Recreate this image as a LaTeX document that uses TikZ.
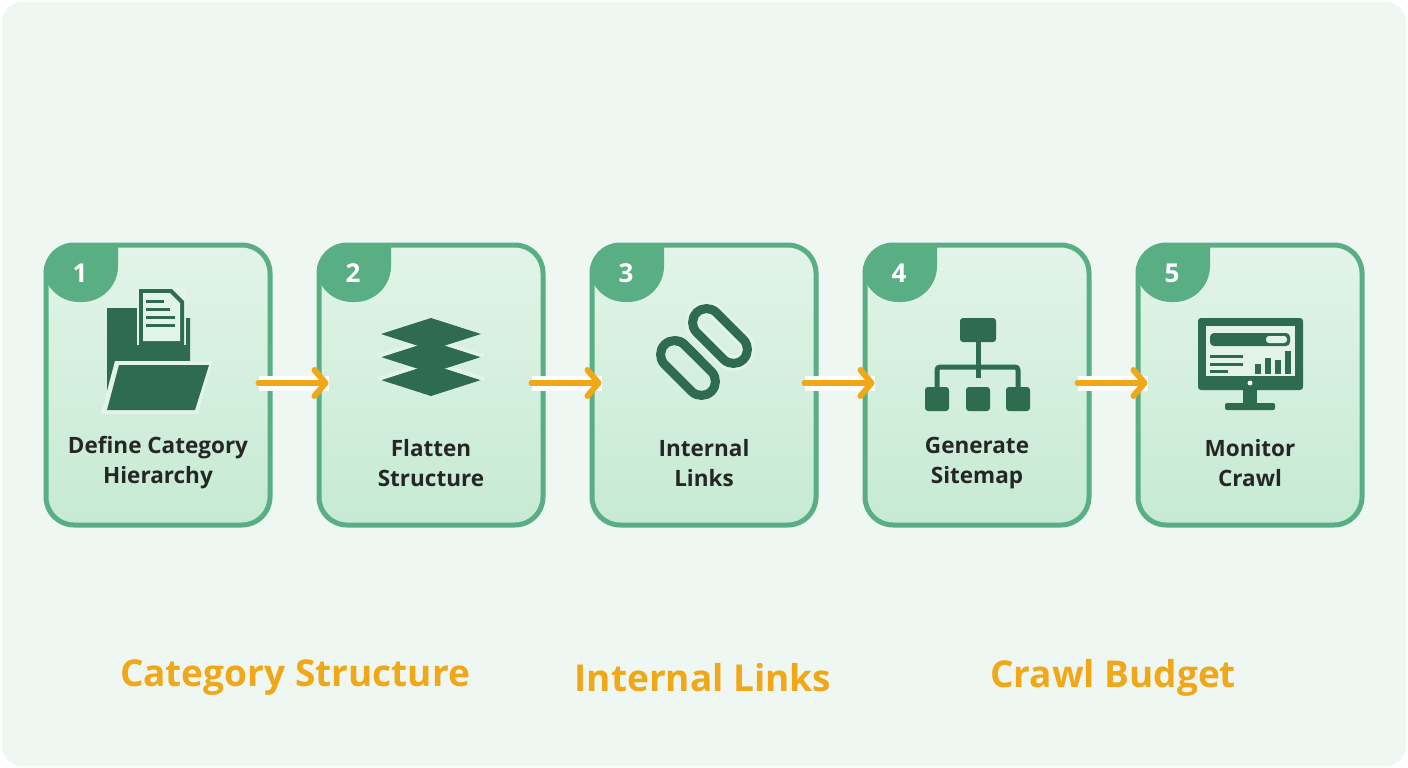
\documentclass[tikz,border=0pt]{standalone}
\usepackage{fontspec}
\setmainfont{Open Sans}
\usetikzlibrary{arrows.meta}
\begin{document}
\definecolor{bg}{HTML}{EEF7F1}
\definecolor{gb}{HTML}{5AAE84}
\definecolor{fillA}{HTML}{E2F4E8}
\definecolor{fillB}{HTML}{C6EAD3}
\definecolor{ic}{HTML}{2E6B4F}
\definecolor{org}{HTML}{F0A818}
\begin{tikzpicture}[x=1pt,y=-1pt,
  box/.style={draw=gb,line width=5pt,rounded corners=28pt,top color=fillA,bottom color=fillB},
  lbl/.style={font=\fontsize{22.5}{30}\selectfont\bfseries,text=black!85,align=center},
  num/.style={font=\fontsize{26}{28}\selectfont\bfseries,text=white},
  big/.style={font=\fontsize{37}{40}\selectfont\bfseries,text=org},
  link/.style={draw=ic,line width=9pt,rounded corners=14pt},
  arr/.style={line width=6pt,draw=org,line cap=round,-{Straight Barb[length=11pt,width=26pt,line width=6pt,round]},preaction={draw=white,line width=15pt,-{}}}]
\fill[white] (0,0) rectangle (1408,768);
\fill[bg,rounded corners=20pt] (2,2) rectangle (1406,766);
\foreach \i/\cx/\n/\t in {1/158/1/{Define Category\\Hierarchy},2/431/2/{Flatten\\Structure},3/704/3/{Internal\\Links},4/977/4/{Generate\\Sitemap},5/1250/5/{Monitor\\Crawl}}{
  \node[box,minimum width=224pt,minimum height=280pt,inner sep=0pt] (b\i) at (\cx,385) {};
  \begin{scope}
  \clip[rounded corners=28pt] (\cx-112,245) rectangle (\cx+112,525);
  \fill[gb] (\cx-115,240) -- (\cx-40,240) [rounded corners=36pt] -- (\cx-40,302) -- (\cx-115,302) -- cycle;
  \end{scope}
  \node[num] (n\i) at (\cx-78,273) {\n};
  \node[lbl] (t\i) at (\cx,463) {\t};
}
% arrows
\foreach \a/\b in {1/2,2/3,3/4,4/5}{
  \coordinate (s\a) at ([xshift=-14pt]b\a.east |- 0,383);
  \coordinate (e\a) at ([xshift=12pt]b\b.west |- 0,383);
  \draw[arr] (s\a) -- (e\a);
}
% icon 1 folder
\fill[ic] (107,308) -- (107,410) -- (190,410) -- (190,318) -- (150,318) -- (143,308) -- cycle;
\fill[fillA] (137,287) rectangle (186,345);
\fill[ic] (139,289) -- (172,289) -- (184,301) -- (184,345) -- (139,345) -- cycle;
\fill[fillA] (143,293) -- (170,293) -- (180,303) -- (180,341) -- (143,341) -- cycle;
\foreach \yy/\w in {300/18,308/24,316/29,324/29}{\fill[ic] (146,\yy) rectangle (146+\w,\yy+3);}
\fill[fillA] (115,361) -- (213,361) -- (198,414) -- (101,414) -- cycle;
\fill[ic] (119,365) -- (209,365) -- (195,410) -- (107,410) -- cycle;
% icon 2 layers
\foreach \yy in {380,357}{
 \fill[ic] (431,\yy-16) -- (481,\yy) -- (431,\yy+16) -- (381,\yy) -- cycle;
 \draw[fillA,line width=4pt] (378,\yy-1) -- (431,\yy-18) -- (484,\yy-1);}
\fill[ic] (431,318) -- (481,334) -- (431,350) -- (381,334) -- cycle;
% icon 3 chain
\draw[link,rotate around={-45:(688,368)}] (655,354) rectangle (721,382);
\draw[link,preaction={draw=fillA,line width=15pt},rotate around={-45:(720,336)}] (687,322) rectangle (753,350);
\begin{scope}
\clip (676,334) rectangle (704,356);
\draw[link,rotate around={-45:(688,368)}] (655,354) rectangle (721,382);
\end{scope}
% icon 4 sitemap
\fill[ic,rounded corners=3pt] (960,318) rectangle (996,342);
\draw[ic,line width=5pt] (978,342) -- (978,378);
\draw[ic,line width=5pt,rounded corners=3pt] (937,390) -- (937,367) -- (1018,367) -- (1018,390);
\foreach \xx in {937,978,1018}{\fill[ic,rounded corners=3pt] (\xx-12,387) rectangle (\xx+12,411);}
% icon 5 monitor
\fill[ic,rounded corners=3pt] (1198,318) rectangle (1303,390);
\fill[fillA] (1206,326) rectangle (1295,376);
\fill[ic,rounded corners=4pt] (1210,333) rectangle (1290,346);
\fill[fillA,rounded corners=3pt] (1266,336) rectangle (1287,343);
\foreach \yy/\w in {355/33,363/33,370/18}{\fill[ic] (1210,\yy) rectangle (1210+\w,\yy+2.5);}
\fill[ic] (1255,364) rectangle (1261,374);
\fill[ic] (1265,358) rectangle (1271,374);
\fill[ic] (1275,360) rectangle (1281,374);
\fill[ic] (1285,351) rectangle (1291,374);
\fill[white] (1250,383) circle (2.5pt);
\fill[ic] (1243,390) rectangle (1257,405);
\fill[ic,rounded corners=2pt] (1225,403) rectangle (1275,410);
% bottom labels
\node[big] (c1) at (295,678) {Category Structure};
\node[big] (c2) at (703,678) {Internal Links};
\node[big] (c3) at (1113,678) {Crawl Budget};
\end{tikzpicture}
\end{document}
